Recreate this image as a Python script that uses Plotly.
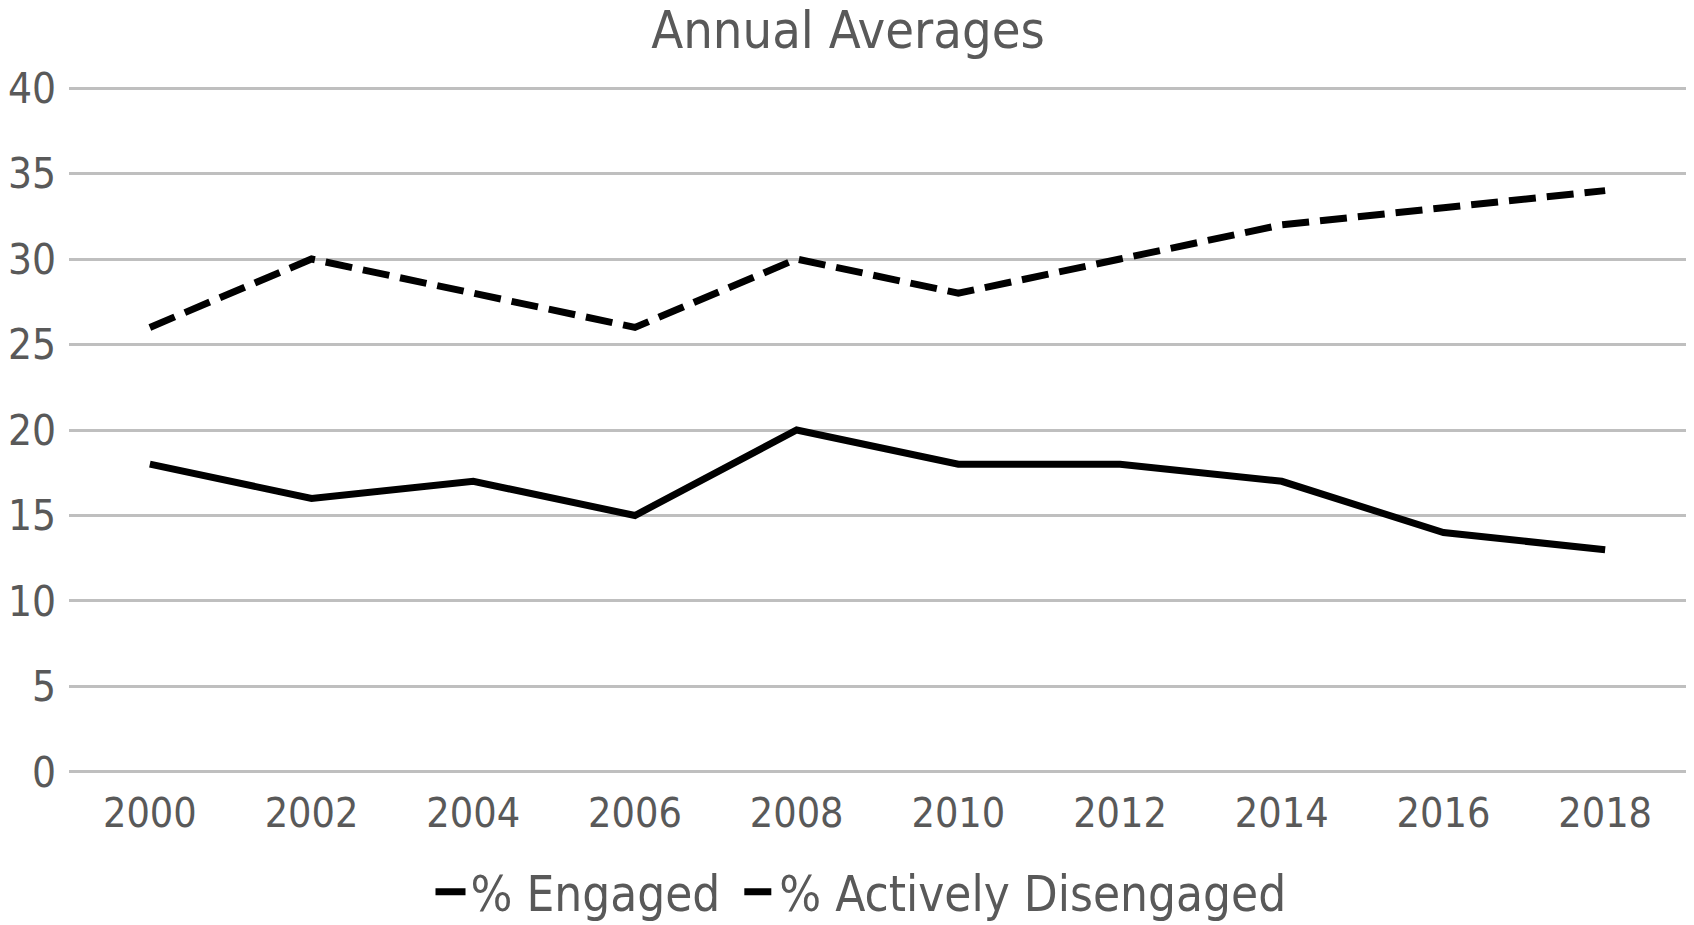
import plotly.graph_objects as go

years = ["2000", "2002", "2004", "2006", "2008", "2010", "2012", "2014", "2016", "2018"]
engaged = [18, 16, 17, 15, 20, 18, 18, 17, 14, 13]
disengaged = [26, 30, 28, 26, 30, 28, 30, 32, 33, 34]
y_ticks = [0, 5, 10, 15, 20, 25, 30, 35, 40]

FONT = "DejaVu Sans Condensed, DejaVu Sans, sans-serif"
TXT = "#595959"

fig = go.Figure()
fig.add_trace(go.Scatter(x=years, y=engaged, mode="lines", name="% Engaged\u00a0",
                         line=dict(color="black", width=7)))
fig.add_trace(go.Scatter(x=years, y=disengaged, mode="lines", name="% Actively Disengaged",
                         line=dict(color="black", width=7, dash="27px,11px")))

fig.update_layout(
    width=1694, height=925,
    margin=dict(l=69, r=8, t=87, b=152, autoexpand=False),
    paper_bgcolor="white", plot_bgcolor="white",
    font=dict(family=FONT, color=TXT, size=42),
    title=dict(text="Annual Averages", x=848/1694, xanchor="center",
               y=1-30/925, yanchor="middle",
               font=dict(family=FONT, size=52, color=TXT)),
    showlegend=True,
    legend=dict(orientation="h", x=(861-69)/1617, xanchor="center", y=-(892-773)/686,
                yanchor="middle", tracegroupgap=0,
                font=dict(family=FONT, size=49, color=TXT), itemwidth=30,
                bgcolor="rgba(0,0,0,0)"),
)
fig.update_xaxes(type="category", range=[-0.5, 9.5], showgrid=False, zeroline=False,
                 showline=False, ticks="", tickfont=dict(size=41, color=TXT),
                 ticklabelstandoff=12)
fig.update_yaxes(range=[-0.06, 40.06], tickvals=y_ticks, showgrid=True, gridcolor="#BFBFBF",
                 gridwidth=3, zeroline=False, showline=False, ticks="",
                 tickfont=dict(size=42, color=TXT), ticklabelstandoff=12)

fig.write_html("out.html")
